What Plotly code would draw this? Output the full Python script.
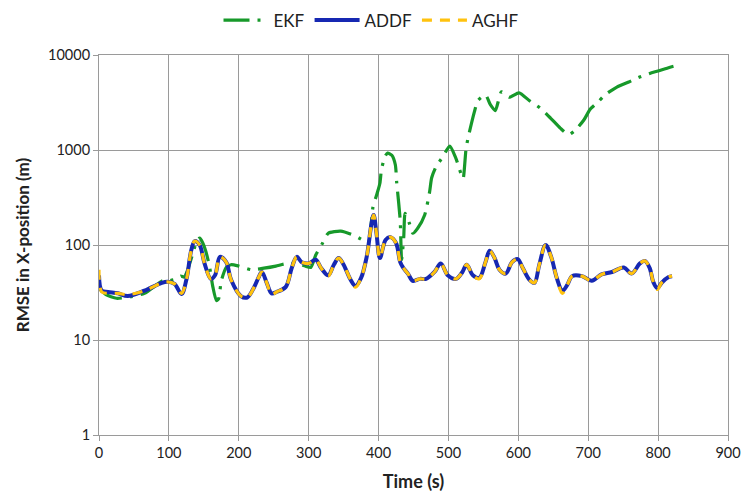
import plotly.graph_objects as go

# ---------------- data ----------------
addf_t = [0, 4, 13, 27, 41, 65, 90, 98, 108, 118, 125, 132, 137, 144, 151, 160, 166, 173, 182, 189,
          203, 212, 222, 228, 233, 240, 247, 254, 267, 276, 283, 290, 300, 310, 318, 328, 336, 343,
          350, 360, 367, 375, 383, 390, 393, 397, 402, 410, 417, 425, 431, 435, 442, 449, 459, 468,
          480, 489, 499, 511, 520, 526, 535, 544, 553, 559, 566, 573, 582, 591, 599, 606, 616, 623,
          630, 639, 647, 655, 663, 670, 677, 691, 705, 719, 734, 751, 762, 774, 781, 788, 793, 799,
          805, 815, 820]
addf_v = [48, 33, 32, 31, 29, 33, 40, 41, 39, 30.5, 43, 88, 110, 100, 64, 44, 48, 75, 66, 43,
          29, 28, 36, 45, 52, 40, 31, 32, 36, 58, 75, 66, 64, 70, 57, 48, 62, 73,
          62, 43, 37, 45, 75, 170, 207, 133, 73, 113, 121, 105, 66, 58, 50, 42, 44, 44,
          52, 64, 48, 44, 52, 62, 48, 45, 66, 87, 73, 55, 50, 66, 71, 58, 43, 40,
          62, 100, 75, 45, 33, 38, 47, 47, 42, 49, 52, 58, 50, 64, 68, 57, 41, 35,
          40, 46, 47]

aghf_t = addf_t
aghf_v = [55, 32, 31, 31, 30, 33, 40, 41, 39, 31, 43, 88, 110, 100, 64, 44, 48, 75, 66, 43,
          29, 28, 36, 45, 52, 40, 30, 32, 36, 58, 75, 66, 64, 70, 57, 47, 62, 73,
          62, 43, 36, 45, 75, 170, 207, 133, 73, 113, 121, 105, 66, 58, 50, 42, 44, 44,
          52, 64, 48, 44, 52, 62, 48, 44, 66, 87, 73, 55, 50, 66, 71, 58, 43, 40,
          62, 100, 75, 45, 31, 38, 47, 47, 42, 49, 52, 58, 50, 64, 68, 57, 41, 34,
          40, 46, 47]

ekf_t = [0, 10, 25, 45, 65, 91, 100, 111, 117, 122, 127, 135, 140, 144, 148, 153, 158, 163, 168,
         171, 175, 182, 189, 200, 218, 236, 253, 265, 276, 286, 295, 303, 310, 320, 328, 346, 364,
         375, 385, 392, 398, 402, 404, 409, 413, 419, 424, 426, 428, 431, 433, 436, 438, 444, 449,
         456, 466, 473, 476, 482, 492, 502, 510, 513, 518, 521, 525, 528, 537, 542, 553, 560, 567,
         576, 587, 601, 616, 631, 646, 660, 672, 681, 694, 703, 714, 724, 741, 758, 772, 788, 800,
         816, 822]
ekf_v = [35, 30, 27.5, 28.5, 31, 42, 42, 44, 47, 46, 55, 85, 110, 118, 107, 85, 60, 36, 26,
         27, 42, 58, 62, 60, 55, 57, 60, 63, 64, 63, 60, 58, 78, 105, 133, 140, 127,
         115, 105, 250, 350, 450, 610, 850, 930, 880, 700, 450, 320, 180, 70, 120, 215, 170, 133,
         150, 207, 360, 510, 660, 850, 1100, 840, 730, 560, 500, 1000, 1330, 2500, 3300, 3800, 3000, 2600,
         4100, 3600, 4000, 3300, 2770, 2170, 1700, 1450, 1600, 2080, 2700, 3200, 3800, 4600, 5200, 5800, 6400, 6800,
         7400, 7600]

x_ticks = [0, 100, 200, 300, 400, 500, 600, 700, 800, 900]
y_ticks = [1, 10, 100, 1000, 10000]
y_tick_text = ["1", "10", "100", "1000", "10000"]

# ---------------- figure ----------------
FONT = "Lato"
GRID = "#9a9a9a"
TXT = "#222"

fig = go.Figure()
fig.add_trace(go.Scatter(
    x=ekf_t, y=ekf_v, name="EKF", mode="lines",
    line=dict(color="#17992A", width=3.2, dash="26px,8px,3px,8px", shape="spline", smoothing=0.6),
))
fig.add_trace(go.Scatter(
    x=addf_t, y=addf_v, name="ADDF", mode="lines",
    line=dict(color="#1628B2", width=4, shape="spline", smoothing=1),
))
fig.add_trace(go.Scatter(
    x=aghf_t, y=aghf_v, name="AGHF", mode="lines",
    line=dict(color="#FFC20E", width=3.2, dash="10px,8px", shape="spline", smoothing=1),
))

fig.update_layout(
    width=743, height=497,
    margin=dict(l=99, r=15, t=55, b=62, autoexpand=False),
    paper_bgcolor="white", plot_bgcolor="white",
    font=dict(family=FONT, size=15, color=TXT),
    showlegend=True,
    legend=dict(orientation="h", x=0.5, xanchor="center", xref="container",
                y=0.995, yanchor="top", yref="container",
                font=dict(size=17, color=TXT),
                itemwidth=45, tracegroupgap=0),
    xaxis=dict(
        range=[0, 900], tickvals=x_ticks,
        showgrid=True, gridcolor=GRID, gridwidth=1,
        showline=True, linecolor=GRID, linewidth=1, mirror=True,
        ticks="outside", ticklen=5, tickcolor=GRID,
        tickfont=dict(size=14.5, family=FONT, color=TXT),
        ticklabeloverflow="allow",
        automargin=False,
        title=dict(text="<b>Time (s)</b>", font=dict(size=18, family=FONT, color=TXT), standoff=14),
        zeroline=False,
    ),
    yaxis=dict(
        type="log", range=[0, 4], tickvals=y_ticks, ticktext=y_tick_text,
        showgrid=True, gridcolor=GRID, gridwidth=1,
        showline=True, linecolor=GRID, linewidth=1, mirror=True,
        ticks="outside", ticklen=5, tickcolor=GRID,
        tickfont=dict(size=14.5, family=FONT, color=TXT),
        ticklabeloverflow="allow",
        automargin=False,
        title=dict(text="<b>RMSE in X-position (m)</b>", font=dict(size=17, family=FONT, color=TXT), standoff=14),
        zeroline=False,
    ),
)

fig.write_html("out.html")
